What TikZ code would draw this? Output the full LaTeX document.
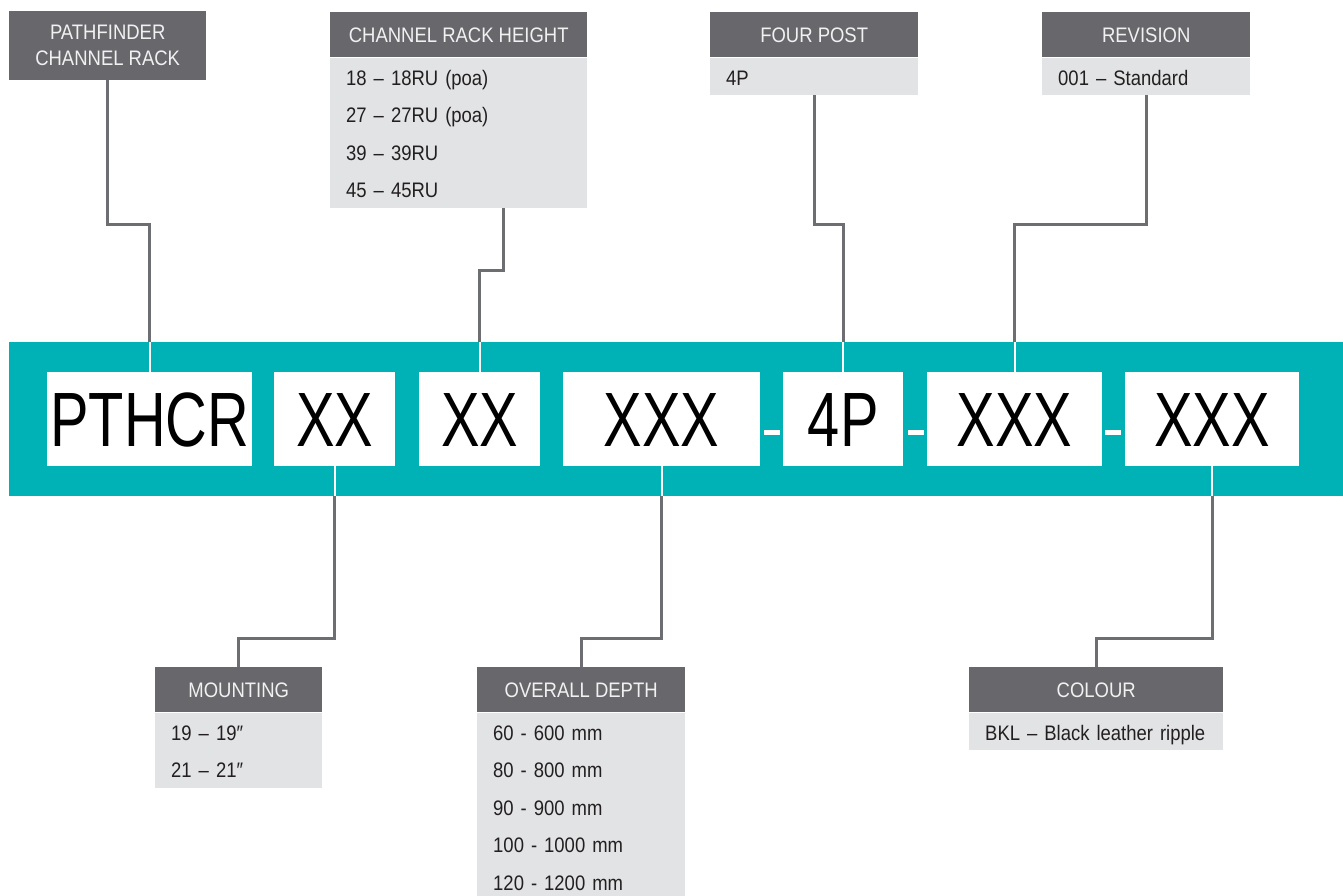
\documentclass[tikz,border=0pt]{standalone}
\usepackage{fontspec}
\setmainfont{Liberation Sans}[FakeStretch=0.88]
\newfontfamily\bigfont{Liberation Sans}[FakeStretch=0.75]
\definecolor{hdrgray}{HTML}{68676B}
\definecolor{bodygray}{HTML}{E2E3E5}
\definecolor{tealband}{HTML}{00B2B5}
\definecolor{linegray}{HTML}{6D6E71}
\definecolor{hdrtext}{HTML}{F1F1F2}
\definecolor{bodytext}{HTML}{231F20}
\newcommand{\bs}{\rule[-10pt]{0pt}{37.5pt}}
\tikzset{
  hdr/.style={fill=hdrgray, text=hdrtext, inner sep=0pt, anchor=north west,
    font=\fontsize{21}{26}\selectfont, align=center, minimum height=45},
  bodybox/.style={fill=bodygray, text=bodytext, inner xsep=16pt, inner ysep=0pt,
    anchor=north west, align=left, font=\fontsize{21}{37.5}\selectfont},
  codebox/.style={fill=white, text=black, inner sep=0pt, anchor=north west,
    minimum height=94, text height=55.5, text depth=0,
    font=\bigfont\fontsize{77}{77}\selectfont},
  dashbox/.style={fill=white, inner sep=0pt, minimum width=16, minimum height=5},
  conn/.style={draw=linegray, line width=3pt},
  wconn/.style={draw=white, line width=2pt}
}
\begin{document}
\begin{tikzpicture}[x=1pt,y=-1pt]
\useasboundingbox (0,0) rectangle (1343,895);
\fill[white] (0,0) rectangle (1343,895);

% band
\node[fill=tealband, inner sep=0pt, anchor=north west, minimum width=1334, minimum height=154] (band) at (9,342) {};

% code boxes
\node[codebox, minimum width=205] (c1) at (47,372) {PTHCR};
\node[codebox, minimum width=121] (c2) at (274,372) {XX};
\node[codebox, minimum width=121] (c3) at (419,372) {XX};
\node[codebox, minimum width=197] (c4) at (563,372) {XXX};
\node[codebox, minimum width=120] (c5) at (783,372) {4P};
\node[codebox, minimum width=175] (c6) at (927,372) {XXX};
\node[codebox, minimum width=174] (c7) at (1125,372) {XXX};
\node[dashbox] (d1) at (771.5,432.5) {};
\node[dashbox] (d2) at (915.5,432.5) {};
\node[dashbox] (d3) at (1113,432.5) {};

% top boxes
\node[hdr, minimum width=197, minimum height=69] (pf) at (9,11) {PATHFINDER\\CHANNEL RACK};
\node[hdr, minimum width=257, text height=15, text depth=0] (crh) at (330,12) {CHANNEL RACK HEIGHT};
\node[bodybox, text width=225] (crhb) at (crh.south west) {\bs 18 – 18RU (poa)\\\bs 27 – 27RU (poa)\\\bs 39 – 39RU\\\bs 45 – 45RU};
\node[hdr, minimum width=208, text height=15, text depth=0] (fp) at (710,12) {FOUR POST};
\node[bodybox, text width=176] (fpb) at (fp.south west) {\bs 4P};
\node[hdr, minimum width=208, text height=15, text depth=0] (rev) at (1042,12) {REVISION};
\node[bodybox, text width=176] (revb) at (rev.south west) {\bs 001 – Standard};

% bottom boxes
\node[hdr, minimum width=167, text height=15, text depth=0] (mt) at (155,667) {MOUNTING};
\node[bodybox, text width=135] (mtb) at (mt.south west) {\bs 19 – 19″\\\bs 21 – 21″};
\node[hdr, minimum width=208, text height=15, text depth=0] (od) at (477,667) {OVERALL DEPTH};
\node[bodybox, text width=176] (odb) at (od.south west) {\bs 60 - 600 mm\\\bs 80 - 800 mm\\\bs 90 - 900 mm\\\bs 100 - 1000 mm\\\bs 120 - 1200 mm};
\node[hdr, minimum width=254, text height=15, text depth=0] (col) at (969,667) {COLOUR};
\node[bodybox, text width=222] (colb) at (col.south west) {\bs BKL – Black leather ripple};

% connectors
\coordinate (yt1) at (0,224);
\coordinate (yt2) at (0,270);
\coordinate (yb) at (0,638);
\coordinate (crhx) at (503,0);

\draw[conn] (pf.south) |- (yt1 -| c1.north) -- (c1.north |- band.north);
\draw[wconn] (c1.north |- band.north) -- (c1.north);
\draw[conn] (crhb.south -| crhx) |- (yt2 -| c3.north) -- (c3.north |- band.north);
\draw[wconn] (c3.north |- band.north) -- (c3.north);
\draw[conn] (fpb.south) |- (yt1 -| c5.north) -- (c5.north |- band.north);
\draw[wconn] (c5.north |- band.north) -- (c5.north);
\draw[conn] (revb.south) |- (yt1 -| c6.north) -- (c6.north |- band.north);
\draw[wconn] (c6.north |- band.north) -- (c6.north);

\draw[wconn] (c2.south) -- (c2.south |- band.south);
\draw[conn] (c2.south |- band.south) |- (yb -| mt.north) -- (mt.north);
\draw[wconn] (c4.south) -- (c4.south |- band.south);
\draw[conn] (c4.south |- band.south) |- (yb -| od.north) -- (od.north);
\draw[wconn] (c7.south) -- (c7.south |- band.south);
\draw[conn] (c7.south |- band.south) |- (yb -| col.north) -- (col.north);
\end{tikzpicture}
\end{document}
